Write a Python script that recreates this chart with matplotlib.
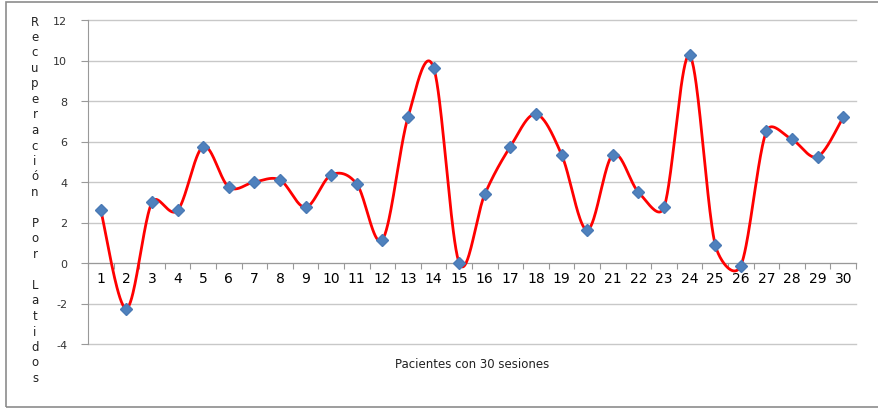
import numpy as np
import matplotlib.pyplot as plt
from matplotlib.patches import Rectangle

pacientes = list(range(1, 31))
recuperacion = [2.6, -2.25, 3.0, 2.6, 5.75, 3.75, 4.0, 4.1, 2.75, 4.35,
                3.9, 1.15, 7.2, 9.65, 0.0, 3.4, 5.75, 7.35, 5.35, 1.63,
                5.35, 3.5, 2.75, 10.25, 0.9, -0.13, 6.5, 6.1, 5.25, 7.2]
y_ticks = [-4, -2, 0, 2, 4, 6, 8, 10, 12]
y_label = "Recuperación Por Latidos"
x_label = "Pacientes con 30 sesiones"

# pixel scale of the plot area, used so the smoothing works in screen space
px_x = 768 / 30
px_y = 324 / 16


def smooth_curve(xs, ys, n=40):
    # bezier segments, control arms 1/6 of the neighbour chord,
    # capped at half the segment length (spreadsheet-style smoothing)
    p = np.column_stack([np.array(xs) * px_x, np.array(ys) * px_y]).astype(float)
    p_ext = np.vstack([p[0], p, p[-1]])
    t = np.linspace(0, 1, n)[:, None]
    out = []
    for i in range(len(p) - 1):
        a, b, c, d = p_ext[i], p_ext[i + 1], p_ext[i + 2], p_ext[i + 3]
        seg_len = np.hypot(*(c - b))
        v1 = c - a
        v2 = d - b
        l1 = np.hypot(*v1)
        l2 = np.hypot(*v2)
        f1 = 1 / 6 if l1 / 6 <= seg_len / 2 else seg_len / (2 * l1)
        f2 = 1 / 6 if l2 / 6 <= seg_len / 2 else seg_len / (2 * l2)
        c1 = b + v1 * f1
        c2 = c - v2 * f2
        seg = ((1 - t) ** 3) * b + 3 * ((1 - t) ** 2) * t * c1 \
            + 3 * (1 - t) * t ** 2 * c2 + t ** 3 * c
        out.append(seg if i == 0 else seg[1:])
    out = np.vstack(out)
    return out[:, 0] / px_x, out[:, 1] / px_y


plt.rcParams['font.family'] = ['DejaVu Sans']

fig = plt.figure(figsize=(8.79, 4.10), dpi=100)
ax = fig.add_axes([88 / 879, 1 - 345 / 410, 768 / 879, 324 / 410])

sx, sy = smooth_curve(pacientes, recuperacion)
ax.plot(sx, sy, color="#ff0000", linewidth=2.0, zorder=3)
ax.plot(pacientes, recuperacion, linestyle="none", marker="D",
        markersize=6.5, color="#4f81bd", markeredgecolor="#4a7ab5",
        zorder=4)

ax.set_xlim(0.5, 30.5)
ax.set_ylim(-4, 12)

ax.set_yticks(y_ticks)
ax.set_yticklabels([str(v) for v in y_ticks], fontsize=8, color="#333333")
ax.tick_params(axis="y", length=5, width=0.8, color="#999999", pad=10)
for v in y_ticks:
    ax.axhline(v, color="#c8c8c8", linewidth=1.0, zorder=0, clip_on=False)

# category boundaries carry the tick marks, centres carry the labels
ax.set_xticks(np.arange(0.5, 31, 1))
ax.set_xticklabels([])
ax.set_xticks(pacientes, minor=True)
ax.set_xticklabels([str(p) for p in pacientes], minor=True,
                   fontsize=8, color="#333333")
ax.tick_params(axis="x", which="major", length=4, width=0.8,
               color="#999999", direction="out")
ax.tick_params(axis="x", which="minor", length=0, pad=6)

for s in ["top", "right"]:
    ax.spines[s].set_visible(False)
ax.spines["bottom"].set_position(("data", 0))
ax.spines["bottom"].set_color("#999999")
ax.spines["left"].set_color("#999999")
ax.spines["bottom"].set_zorder(1)

fig.text(472 / 879, 1 - 365 / 410, x_label, ha="center", va="center",
         fontsize=8.5, color="#222222")

top = 22
step = 15.5
for i, ch in enumerate(y_label):
    if ch == " ":
        continue
    fig.text(35 / 879, 1 - (top + i * step) / 410, ch, ha="center",
             va="center", fontsize=8.5, color="#222222")

fig.patches.append(Rectangle((6 / 879, 2 / 410), 1.05, 405 / 410,
                             transform=fig.transFigure, fill=False,
                             edgecolor="#8c8c8c", linewidth=1.2))

fig.savefig("out.png", dpi=100)
